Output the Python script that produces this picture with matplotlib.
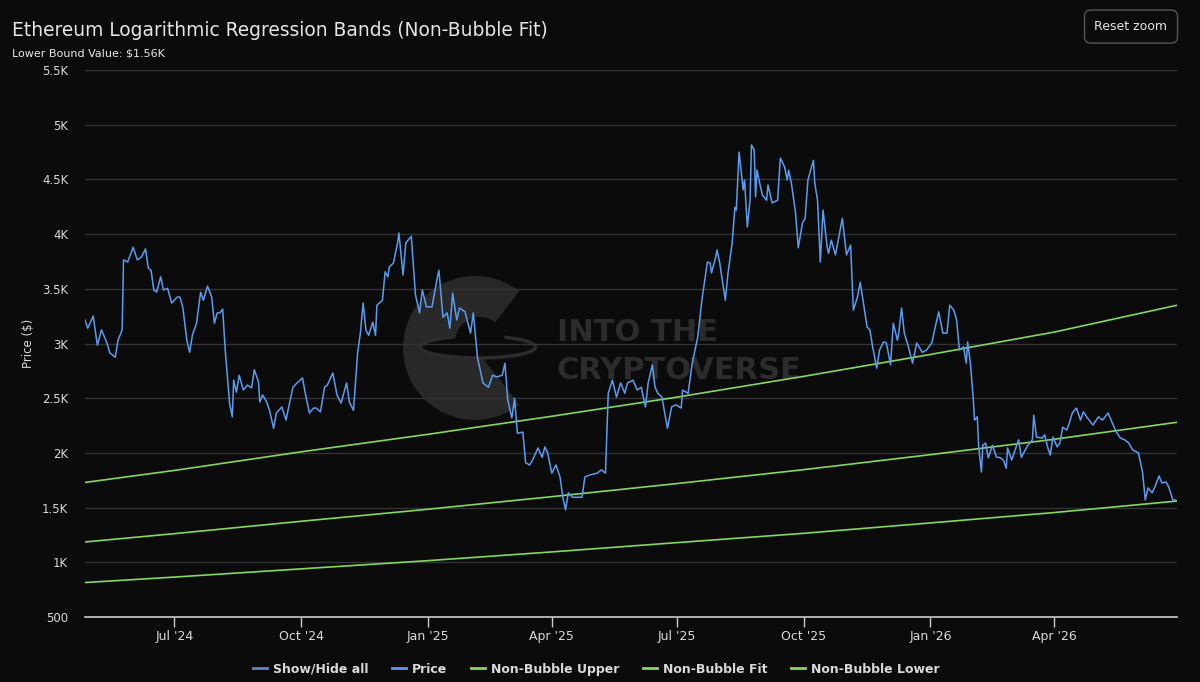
import pandas as pd
import matplotlib
matplotlib.use('Agg')
import matplotlib.pyplot as plt
import matplotlib.dates as mdates
from matplotlib.patches import Wedge, Ellipse
from matplotlib.lines import Line2D
from matplotlib.ticker import FuncFormatter, MultipleLocator

start = pd.Timestamp('2024-04-27')
end = pd.Timestamp('2026-06-29')

# price readings: days after start, USD
price_day = [
    0, 2, 6, 9, 12, 16, 18, 22, 24, 27, 28, 31, 35, 38, 41, 44, 46, 48, 50, 52,
    55, 57, 60, 63, 67, 69, 71, 74, 76, 78, 81, 84, 86, 89, 92, 94, 96, 98, 100, 102,
    105, 107, 108, 110, 112, 115, 118, 121, 123, 126, 127, 129, 132, 134, 137, 139, 143, 146, 148, 151,
    154, 158, 160, 163, 166, 168, 171, 174, 176, 180, 183, 186, 190, 192, 195, 198,
    200, 202, 204, 206, 209, 211, 212, 216, 218, 220, 221, 224, 227, 228, 231, 233, 237, 240, 243, 245,
    248, 252, 256, 257, 260, 263, 265, 267, 270, 272, 276, 280, 282, 285, 287, 289, 293, 296, 299, 303,
    305, 307, 310, 312, 314, 318, 320, 323, 325, 329, 332, 334, 336, 339, 342, 345, 347, 349, 351, 354,
    357, 361, 363, 367, 372, 375, 378, 380, 383, 386, 389, 392, 394, 398, 401, 404, 407, 409, 412, 414,
    416, 419, 423, 426, 429, 433, 434, 438, 441, 443, 445, 448, 452, 454, 455, 458, 459, 461, 465, 467,
    470, 472, 473, 475, 478, 479, 481, 483, 484, 486, 487, 488, 490, 492, 495, 496, 499, 503, 505, 508,
    510, 511, 513, 516, 518, 521, 523, 525, 529, 530, 532, 534, 536, 539, 540, 542, 545, 547, 550, 553,
    556, 558, 561, 563, 565, 568, 570, 572, 575, 577, 580, 582, 585, 587, 590, 591, 593, 595, 598, 601,
    604, 608, 611, 615, 617, 620, 623, 626, 628, 631, 633, 635, 638, 640, 641, 643, 645, 646, 648, 649,
    651, 652, 654, 656, 659, 662, 664, 667, 669, 670, 673, 675, 678, 680, 684, 688, 689, 691, 695, 697,
    699, 701, 703, 706, 708, 710, 713, 715, 717, 720, 723, 725, 728, 732, 736, 739, 743, 746, 749, 752,
    755, 758, 761, 765, 768, 770, 772, 775, 777, 780, 782, 785, 787, 790, 792,
]
price_usd = [
    3215, 3140, 3250, 2985, 3125, 3005, 2915, 2875, 3030, 3125, 3765, 3745, 3880, 3765, 3790, 3865, 3690, 3670, 3490, 3470,
    3610, 3490, 3505, 3370, 3425, 3425, 3335, 3030, 2920, 3075, 3185, 3470, 3395, 3525, 3425, 3185, 3280, 3280, 3315, 2915,
    2455, 2330, 2665, 2555, 2710, 2575, 2620, 2595, 2760, 2650, 2465, 2530, 2465, 2390, 2225, 2365, 2420, 2300, 2420, 2600,
    2640, 2685, 2545, 2365, 2410, 2410, 2375, 2600, 2620, 2730, 2530, 2455, 2640, 2465, 2390, 2915,
    3095, 3370, 3125, 3075, 3195, 3075, 3350, 3395, 3655, 3610, 3700, 3735, 3920, 4010, 3625, 3920, 3980, 3445, 3280, 3490,
    3335, 3335, 3610, 3670, 3240, 3280, 3140, 3460, 3215, 3325, 3290, 3095, 3280, 2875, 2760, 2640, 2600, 2710, 2695, 2710,
    2820, 2485, 2320, 2500, 2180, 2190, 1910, 1890, 1935, 2045, 1960, 2055, 2000, 1815, 1890, 1780, 1595, 1480, 1635, 1595,
    1595, 1595, 1780, 1800, 1815, 1845, 1815, 2545, 2665, 2510, 2640, 2545, 2640, 2665, 2575, 2600, 2420, 2640, 2805, 2600,
    2545, 2510, 2225, 2420, 2440, 2410, 2575, 2545, 2820, 2940, 3060, 3395, 3745, 3735, 3645, 3790, 3855, 3735, 3395, 3645,
    3920, 4245, 4220, 4750, 4405, 4495, 4065, 4310, 4815, 4770, 4340, 4585, 4465, 4355, 4310, 4450, 4285, 4310, 4695, 4615,
    4495, 4585, 4465, 4195, 3875, 4100, 4145, 4495, 4675, 4465, 4310, 3745, 4220, 3880, 3825, 3945, 3810, 3945, 4145, 3810,
    3900, 3305, 3425, 3560, 3395, 3150, 3125, 2970, 2775, 2940, 3015, 3005, 2805, 3185, 3030, 3095, 3325, 3095, 2970, 2820,
    3005, 2920, 2940, 3005, 3125, 3290, 3095, 3095, 3350, 3305, 3215, 2940, 2970, 2820, 3015, 2820, 2510, 2300, 2330, 2055,
    1825, 2070, 2090, 1955, 2070, 1960, 1960, 1935, 1860, 2045, 1935, 2010, 2120, 1960, 2055, 2120, 2345, 2145, 2135, 2165,
    2055, 1980, 2145, 2055, 2090, 2235, 2210, 2280, 2365, 2410, 2300, 2375, 2320, 2255, 2330, 2300, 2365, 2275, 2190, 2135,
    2120, 2090, 2025, 2000, 1825, 1570, 1680, 1635, 1690, 1790, 1725, 1735, 1690, 1570, 1570,
]

# regression bands read at quarter starts
band_dates = ['2024-04-27', '2024-07-01', '2024-10-01', '2025-01-01', '2025-04-01',
              '2025-07-01', '2025-10-01', '2026-01-01', '2026-04-01', '2026-06-29']
upper = [1730, 1840, 2010, 2170, 2335, 2510, 2700, 2900, 3105, 3350]
fit = [1186, 1262, 1375, 1485, 1600, 1720, 1847, 1984, 2125, 2280]
lower = [815, 865, 940, 1015, 1095, 1180, 1265, 1360, 1455, 1560]

bg = '#0b0b0b'
blue = '#5b9cf0'
green = '#84d85c'
txt = '#d9d9d9'

price_dates = start + pd.to_timedelta(price_day, unit='D')
band_dates = pd.to_datetime(band_dates)

fig = plt.figure(figsize=(12, 6.82), dpi=100, facecolor=bg)
ax = fig.add_axes([0.0708, 0.0953, 0.9100, 0.8020])
ax.set_facecolor('none')

# watermark (behind everything)
logo = [
    Wedge((4.75, 3.34), 0.72, 52, 308, fc='#282828', ec='none'),
    Ellipse((4.78, 3.35), 1.15, 0.22, fc=bg, ec='#2c2c2c', lw=2.5),
    Wedge((4.80, 3.40), 0.25, 0, 180, fc=bg, ec='none'),
]
for p in logo:
    p.set_transform(fig.dpi_scale_trans)
    p.set_zorder(-2)
    fig.add_artist(p)
fig.text(0.464, 0.512, 'INTO THE', color='#2c2c2c', fontsize=22, fontweight='bold',
         ha='left', va='center', zorder=-1)
fig.text(0.464, 0.457, 'CRYPTOVERSE', color='#2c2c2c', fontsize=22, fontweight='bold',
         ha='left', va='center', zorder=-1)

ax.plot(band_dates, upper, color=green, lw=1.2, label='Non-Bubble Upper', zorder=3)
ax.plot(band_dates, fit, color=green, lw=1.2, label='Non-Bubble Fit', zorder=3)
ax.plot(band_dates, lower, color=green, lw=1.2, label='Non-Bubble Lower', zorder=3)
ax.plot(price_dates, price_usd, color=blue, lw=1.1, label='Price', zorder=4)

ax.set_xlim(start, end)
ax.set_ylim(500, 5500)
ax.yaxis.set_major_locator(MultipleLocator(500))
ax.yaxis.set_major_formatter(FuncFormatter(
    lambda v, p: f'{v / 1000:g}K' if v >= 1000 else f'{int(v)}'))
ax.xaxis.set_major_locator(mdates.MonthLocator(bymonth=[1, 4, 7, 10]))
ax.xaxis.set_major_formatter(mdates.DateFormatter("%b '%y"))

ax.grid(axis='y', color='#333333', lw=1, zorder=1)
ax.set_axisbelow(True)
for s in ['top', 'right', 'left']:
    ax.spines[s].set_visible(False)
ax.spines['bottom'].set_color('#cccccc')
ax.spines['bottom'].set_linewidth(1.2)
ax.tick_params(axis='y', length=0, colors=txt, labelsize=8.5, pad=12)
ax.tick_params(axis='x', length=7, width=1, color='#cccccc', colors=txt, labelsize=9, pad=2)
ax.set_ylabel('Price ($)', color=txt, fontsize=8.5, labelpad=5)

fig.text(0.01, 0.955, 'Ethereum Logarithmic Regression Bands (Non-Bubble Fit)',
         color='#e6e6e6', fontsize=13.4, ha='left', va='center')
fig.text(0.01, 0.921, 'Lower Bound Value: $1.56K', color='#e6e6e6', fontsize=8,
         ha='left', va='center')
fig.text(0.9425, 0.961, 'Reset zoom', color='#e6e6e6', fontsize=9, ha='center', va='center',
         bbox=dict(boxstyle='round,pad=0.8,rounding_size=0.5', fc=bg, ec='#555555', lw=1))

hs = ax.get_legend_handles_labels()[0]
handles = [Line2D([], [], color='#5f86c8', lw=2), hs[3], hs[0], hs[1], hs[2]]
labels = ['Show/Hide all', 'Price', 'Non-Bubble Upper', 'Non-Bubble Fit', 'Non-Bubble Lower']
leg = fig.legend(handles, labels, loc='center', bbox_to_anchor=(0.497, 0.019), ncol=5,
                 frameon=False, handlelength=1.1, handletextpad=0.5, columnspacing=1.9,
                 prop={'size': 9, 'weight': 'bold'})
for t in leg.get_texts():
    t.set_color(txt)
for h in leg.legend_handles:
    h.set_linewidth(2)

fig.savefig('out.png', dpi=100, facecolor=bg)
